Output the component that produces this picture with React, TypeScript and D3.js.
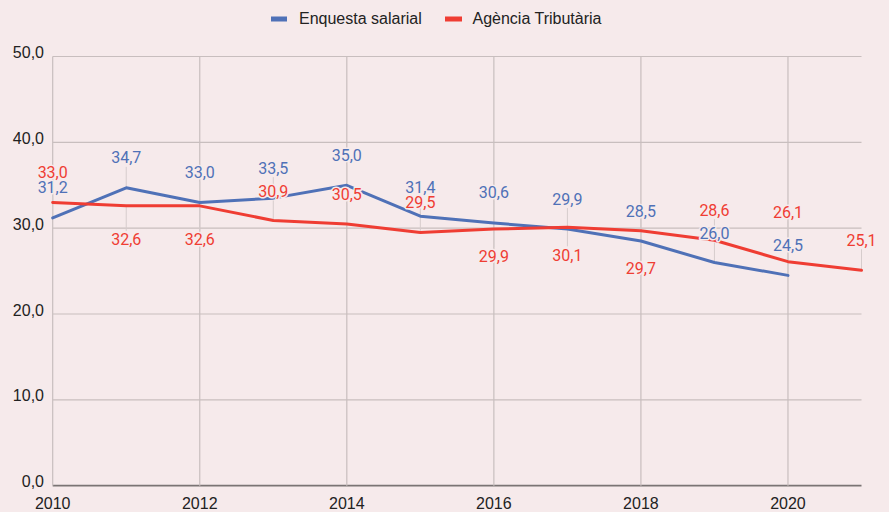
import React from "react";
import * as d3 from "d3";

const years = [2010, 2011, 2012, 2013, 2014, 2015, 2016, 2017, 2018, 2019, 2020, 2021];
const enquesta = [31.2, 34.7, 33.0, 33.5, 35.0, 31.4, 30.6, 29.9, 28.5, 26.0, 24.5];
const agencia = [33.0, 32.6, 32.6, 30.9, 30.5, 29.5, 29.9, 30.1, 29.7, 28.6, 26.1, 25.1];
const yTicks = [0, 10, 20, 30, 40, 50];
const xTicks = [2010, 2012, 2014, 2016, 2018, 2020];
const seriesNames = ["Enquesta salarial", "Agència Tributària"];

// label layout offsets (px, relative to point)
const enquestaLabelDy = [-30, -30, -30, -30, -30, -29, -31, -30, -30, -29, -30];
const agenciaLabelDy = [-30, 34, 34, -29, -29, -30, 27, 28, 38, -30, -49, -30];

const W = 889;
const H = 512;
const BG = "#f6eaeb";
const BLUE = "#4f71b7";
const RED = "#ef3d33";

const fmt = (v: number) => v.toFixed(1).replace(".", ",");

export default function App() {
  const x = d3.scaleLinear().domain([2010, 2021]).range([52.7, 861.5]);
  const y = d3.scaleLinear().domain([0, 50]).range([485.7, 56.5]);
  const line = d3
    .line<number>()
    .x((_, i) => x(years[i]))
    .y((d) => y(d));

  const series = [
    { name: seriesNames[0], values: enquesta, dy: enquestaLabelDy, color: BLUE },
    { name: seriesNames[1], values: agencia, dy: agenciaLabelDy, color: RED },
  ];

  const labelFont = "Roboto, 'Noto Sans', sans-serif";
  const axisFont = "'Liberation Sans', Arial, sans-serif";

  return (
    <svg
      width={W}
      height={H}
      style={{ position: "absolute", left: 0, top: 0, display: "block" }}
    >
      <rect x={0} y={0} width={W} height={H} fill={BG} />
      {/* horizontal grid */}
      {yTicks.map((t) => (
        <line
          key={"h" + t}
          x1={x(2010)}
          x2={x(2021)}
          y1={y(t)}
          y2={y(t)}
          stroke={t === 0 ? "#7a7474" : "#c8bebe"}
          strokeWidth={t === 0 ? 1.8 : 1.2}
        />
      ))}
      {/* vertical grid */}
      {xTicks.map((t) => (
        <line
          key={"v" + t}
          x1={x(t)}
          x2={x(t)}
          y1={y(50)}
          y2={y(0)}
          stroke="#c8bebe"
          strokeWidth={1.2}
        />
      ))}
      {/* y tick labels */}
      {yTicks.map((t) => (
        <text
          key={"yl" + t}
          x={44}
          y={y(t)}
          dy="0.1em"
          textAnchor="end"
          fontFamily={axisFont}
          fontSize={16}
          fill="#222"
        >
          {fmt(t)}
        </text>
      ))}
      {/* x tick labels */}
      {xTicks.map((t) => (
        <text
          key={"xl" + t}
          x={x(t)}
          y={509}
          textAnchor="middle"
          fontFamily={axisFont}
          fontSize={16}
          fill="#222"
        >
          {t}
        </text>
      ))}
      {/* leader lines */}
      {series.map((s) =>
        s.values.map((v, i) => {
          const py = y(v);
          const ly = py + s.dy[i];
          const sign = s.dy[i] < 0 ? 1 : -1;
          const y1 = ly + sign * 9;
          return (
            <line
              key={s.name + "ld" + i}
              x1={x(years[i])}
              x2={x(years[i])}
              y1={y1}
              y2={py}
              stroke="#d6cccc"
              strokeWidth={1}
            />
          );
        })
      )}
      {/* lines */}
      {series.map((s) => (
        <path
          key={s.name + "line"}
          d={line(s.values) || ""}
          fill="none"
          stroke={s.color}
          strokeWidth={3}
          strokeLinejoin="round"
          strokeLinecap="round"
        />
      ))}
      {/* value labels */}
      {series.map((s) =>
        s.values.map((v, i) => (
          <text
            key={s.name + "lb" + i}
            x={x(years[i])}
            y={y(v) + s.dy[i]}
            dominantBaseline="central"
            textAnchor="middle"
            fontFamily={labelFont}
            fontSize={16}
            fill={s.color}
            stroke={BG}
            strokeWidth={3}
            paintOrder="stroke"
            strokeLinejoin="round"
          >
            {fmt(v)}
          </text>
        ))
      )}
      {/* legend */}
      <rect x={271} y={16.5} width={16} height={5} fill={BLUE} />
      <text x={299} y={24} fontFamily={axisFont} fontSize={16} fill="#222">
        {seriesNames[0]}
      </text>
      <rect x={445} y={16.5} width={17} height={5} fill={RED} />
      <text x={472.5} y={24} fontFamily={axisFont} fontSize={16} fill="#222">
        {seriesNames[1]}
      </text>
    </svg>
  );
}
